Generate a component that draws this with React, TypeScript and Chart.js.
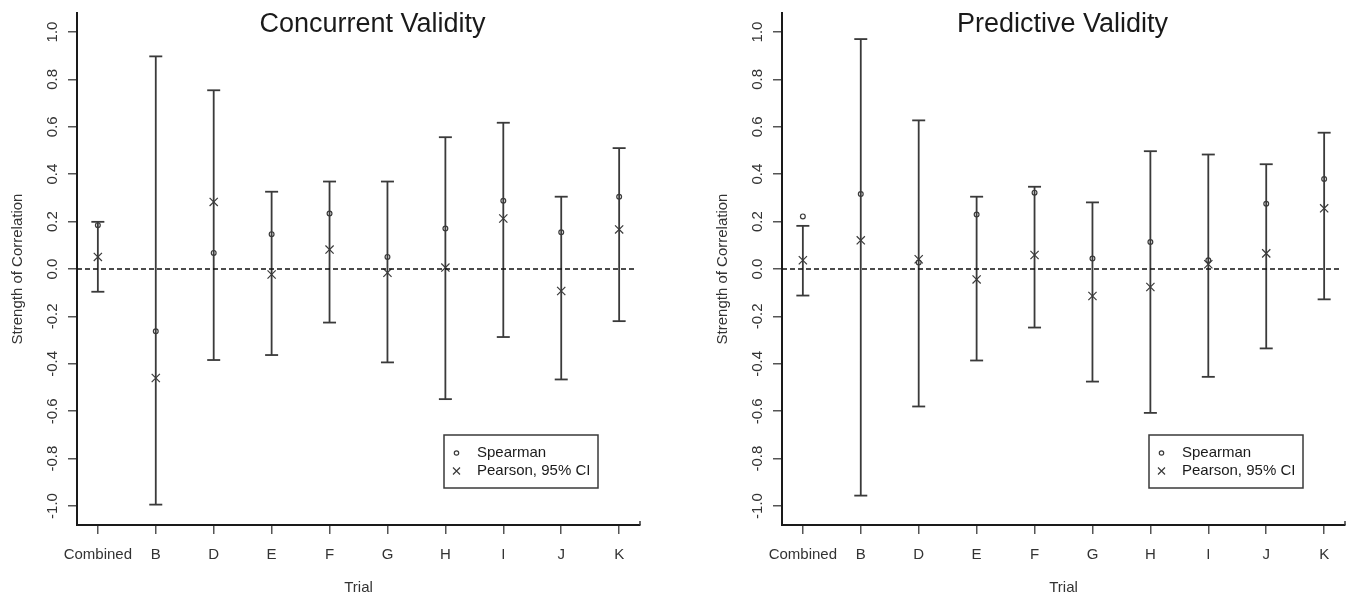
import React, { useEffect, useRef } from 'react';
import { Chart, registerables } from 'chart.js';

Chart.register(...registerables);

// ---- data ----
const trials = ['Combined', 'B', 'D', 'E', 'F', 'G', 'H', 'I', 'J', 'K'];
const yTickValues = [-1.0, -0.8, -0.6, -0.4, -0.2, 0.0, 0.2, 0.4, 0.6, 0.8, 1.0];
const legendLabels = ['Spearman', 'Pearson, 95% CI'];

const concurrentSpearman = [0.185, -0.263, 0.068, 0.147, 0.234, 0.051, 0.171, 0.288, 0.155, 0.305];
const concurrentPearson = [0.051, -0.46, 0.283, -0.023, 0.082, -0.016, 0.006, 0.213, -0.093, 0.167];
const concurrentLower = [-0.096, -0.994, -0.384, -0.363, -0.226, -0.394, -0.549, -0.287, -0.466, -0.22];
const concurrentUpper = [0.199, 0.897, 0.754, 0.326, 0.369, 0.369, 0.556, 0.617, 0.305, 0.51];

const predictiveSpearman = [0.222, 0.316, 0.027, 0.23, 0.322, 0.044, 0.114, 0.037, 0.275, 0.38];
const predictivePearson = [0.037, 0.121, 0.041, -0.044, 0.059, -0.114, -0.076, 0.02, 0.066, 0.256];
const predictiveLower = [-0.112, -0.956, -0.58, -0.386, -0.247, -0.475, -0.607, -0.455, -0.335, -0.128];
const predictiveUpper = [0.182, 0.97, 0.627, 0.305, 0.347, 0.281, 0.497, 0.483, 0.442, 0.575];

const FONT = '"Liberation Sans", Arial, Helvetica, sans-serif';
const INK = '#1a1a1a';
const LINE = '#3a3a3a';
const TICK = '#555';

type Panel = {
  title: string;
  titleDx: number;
  spearman: number[];
  pearson: number[];
  lower: number[];
  upper: number[];
  yWidth: number;
  padRight: number;
};

const panels: Panel[] = [
  {
    title: 'Concurrent Validity',
    titleDx: 14,
    spearman: concurrentSpearman,
    pearson: concurrentPearson,
    lower: concurrentLower,
    upper: concurrentUpper,
    yWidth: 77,
    padRight: 37,
  },
  {
    title: 'Predictive Validity',
    titleDx: -1,
    spearman: predictiveSpearman,
    pearson: predictivePearson,
    lower: predictiveLower,
    upper: predictiveUpper,
    yWidth: 105,
    padRight: 9,
  },
];

function decorPlugin(p: Panel) {
  return {
    id: 'decor',
    afterDraw(chart: any) {
      const { ctx, chartArea: a, scales } = chart;
      const ys = scales.y;
      ctx.save();
      ctx.fillStyle = INK;

      // title
      ctx.font = `27px ${FONT}`;
      ctx.textAlign = 'center';
      ctx.textBaseline = 'alphabetic';
      ctx.fillText(p.title, (a.left + a.right) / 2 + p.titleDx, 32);

      // rotated y tick labels
      ctx.fillStyle = '#333';
      ctx.font = `15px ${FONT}`;
      for (const t of ys.ticks) {
        const py = ys.getPixelForValue(t.value);
        ctx.save();
        ctx.translate(a.left - 24.5, py);
        ctx.rotate(-Math.PI / 2);
        ctx.textAlign = 'center';
        ctx.textBaseline = 'middle';
        ctx.fillText(Number(t.value).toFixed(1), 0, 0);
        ctx.restore();
      }

      // y title
      ctx.save();
      ctx.translate(a.left - 59.5, (a.top + a.bottom) / 2);
      ctx.rotate(-Math.PI / 2);
      ctx.textAlign = 'center';
      ctx.textBaseline = 'middle';
      ctx.font = `15px ${FONT}`;
      ctx.fillText('Strength of Correlation', 0, 0);
      ctx.restore();

      // small stub at right end of x axis
      ctx.strokeStyle = LINE;
      ctx.lineWidth = 1.5;
      ctx.beginPath();
      ctx.moveTo(a.right, a.bottom);
      ctx.lineTo(a.right, a.bottom - 4);
      ctx.stroke();

      // legend box
      const bx = a.left + 367;
      const by = a.top + 422;
      const bw = 154;
      const bh = 53;
      ctx.lineWidth = 1.5;
      ctx.strokeStyle = LINE;
      ctx.strokeRect(bx, by, bw, bh);
      const sx = bx + 12.5;
      const r1y = by + 18;
      const r2y = by + 36;
      ctx.lineWidth = 1.2;
      ctx.beginPath();
      ctx.arc(sx, r1y, 2.2, 0, Math.PI * 2);
      ctx.stroke();
      ctx.beginPath();
      ctx.moveTo(sx - 3.5, r2y - 3.5);
      ctx.lineTo(sx + 3.5, r2y + 3.5);
      ctx.moveTo(sx + 3.5, r2y - 3.5);
      ctx.lineTo(sx - 3.5, r2y + 3.5);
      ctx.stroke();
      ctx.fillStyle = INK;
      ctx.font = `15px ${FONT}`;
      ctx.textAlign = 'left';
      ctx.textBaseline = 'middle';
      ctx.fillText(legendLabels[0], bx + 33, r1y);
      ctx.fillText(legendLabels[1], bx + 33, r2y);

      ctx.restore();
    },
  };
}

function ValidityChart({ p }: { p: Panel }) {
  const ref = useRef<HTMLCanvasElement | null>(null);
  useEffect(() => {
    if (!ref.current) return;
    const whiskers: any[] = [];
    trials.forEach((_, i) => {
      whiskers.push({ x: i, y: p.lower[i] });
      whiskers.push({ x: i, y: p.upper[i] });
      whiskers.push({ x: i, y: null });
    });
    const xMin = -0.36;
    const xMax = trials.length - 1 + 0.36;
    const chart = new Chart(ref.current, {
      type: 'scatter',
      data: {
        datasets: [
          {
            label: 'zero',
            data: [
              { x: xMin, y: 0 },
              { x: xMax - 0.1, y: 0 },
            ],
            showLine: true,
            borderColor: '#111',
            borderWidth: 1.6,
            borderDash: [5, 3],
            pointRadius: 0,
          },
          {
            label: 'CI',
            data: whiskers,
            showLine: true,
            spanGaps: false,
            borderColor: LINE,
            borderWidth: 1.8,
            pointRadius: 0,
          },
          {
            label: 'lower',
            data: trials.map((_, i) => ({ x: i, y: p.lower[i] })),
            pointStyle: 'line',
            pointRadius: 6.5,
            borderColor: LINE,
            pointBorderColor: LINE,
            pointBorderWidth: 1.8,
          },
          {
            label: 'upper',
            data: trials.map((_, i) => ({ x: i, y: p.upper[i] })),
            pointStyle: 'line',
            pointRadius: 6.5,
            borderColor: LINE,
            pointBorderColor: LINE,
            pointBorderWidth: 1.8,
          },
          {
            label: legendLabels[0],
            data: trials.map((_, i) => ({ x: i, y: p.spearman[i] })),
            pointStyle: 'circle',
            pointRadius: 2.4,
            pointBackgroundColor: '#fff',
            pointBorderColor: LINE,
            pointBorderWidth: 1.2,
          },
          {
            label: legendLabels[1],
            data: trials.map((_, i) => ({ x: i, y: p.pearson[i] })),
            pointStyle: 'crossRot',
            pointRadius: 5.8,
            pointBorderColor: LINE,
            pointBorderWidth: 1.2,
          },
        ],
      },
      options: {
        responsive: false,
        animation: false,
        events: [],
        layout: { padding: { left: 0, right: p.padRight, top: 13, bottom: 0 } },
        plugins: { legend: { display: false }, tooltip: { enabled: false }, title: { display: false } },
        scales: {
          x: {
            type: 'linear',
            min: xMin,
            max: xMax,
            afterBuildTicks: (s: any) => {
              s.ticks = trials.map((_, i) => ({ value: i }));
            },
            afterFit: (s: any) => {
              s.height = 78;
            },
            ticks: {
              autoSkip: false,
              maxRotation: 0,
              minRotation: 0,
              padding: 12,
              color: '#333',
              font: { family: FONT, size: 15 },
              callback: (v: any) => trials[Math.round(Number(v))],
            },
            grid: { drawOnChartArea: false, drawTicks: true, tickLength: 9, color: TICK, lineWidth: 1.5 },
            border: { display: true, color: INK, width: 2 },
            title: {
              display: true,
              text: 'Trial',
              color: '#333',
              font: { family: FONT, size: 15 },
              padding: { top: 0, bottom: 6 },
            },
          },
          y: {
            type: 'linear',
            min: -1.08,
            max: 1.08,
            afterBuildTicks: (s: any) => {
              s.ticks = yTickValues.map((v) => ({ value: v }));
            },
            afterFit: (s: any) => {
              s.width = p.yWidth;
            },
            ticks: { display: false },
            grid: { drawOnChartArea: false, drawTicks: true, tickLength: 9, color: TICK, lineWidth: 1.5 },
            border: { display: true, color: INK, width: 2 },
          },
        },
      },
      plugins: [decorPlugin(p)],
    } as any);
    return () => chart.destroy();
  }, [p]);
  return <canvas ref={ref} width={677} height={603} style={{ display: 'block', width: 677, height: 603 }} />;
}

export default function App() {
  return (
    <div
      style={{
        position: 'absolute',
        left: 0,
        top: 0,
        width: 1354,
        height: 603,
        display: 'flex',
        background: '#fff',
      }}
    >
      {panels.map((p) => (
        <ValidityChart key={p.title} p={p} />
      ))}
    </div>
  );
}
